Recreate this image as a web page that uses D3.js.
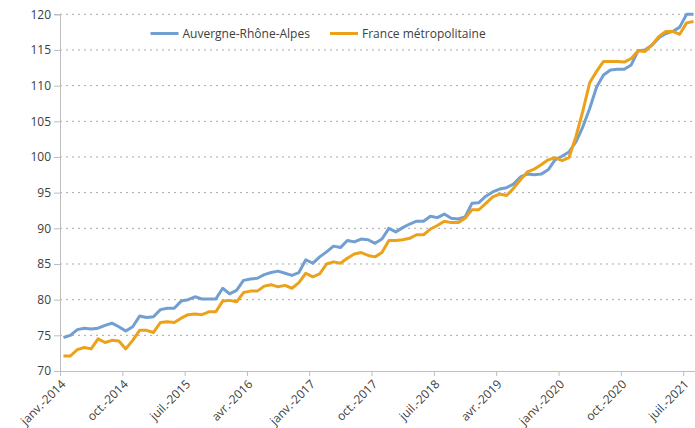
<!DOCTYPE html>
<html>
<head>
<meta charset="utf-8">
<title></title>
<style>
  body { margin: 0; background: #fff; }
  svg { font-family: "Open Sans", sans-serif; }
</style>
</head>
<body>
<svg id="chart" width="695" height="428"></svg>
<script src="https://d3js.org/d3.v7.min.js"></script>
<script>
// months janv.-2014 .. août-2021
const monthNames = ["janv.", "févr.", "mars", "avr.", "mai", "juin", "juil.", "août", "sept.", "oct.", "nov.", "déc."];
const firstYear = 2014;
const nMonths = 92;
const months = d3.range(nMonths).map(i => `${monthNames[i % 12]}-${firstYear + Math.floor(i / 12)}`);

const seriesNames = ["Auvergne-Rhône-Alpes", "France métropolitaine"];

const ara = [
  74.7, 75.0, 75.8, 76.0, 75.9, 76.0, 76.4, 76.7, 76.2, 75.6, 76.2, 77.7,
  77.5, 77.6, 78.6, 78.8, 78.8, 79.8, 80.0, 80.4, 80.1, 80.1, 80.1, 81.6,
  80.8, 81.3, 82.7, 82.9, 83.0, 83.5, 83.8, 84.0, 83.7, 83.4, 83.8, 85.6,
  85.1, 86.0, 86.7, 87.5, 87.3, 88.3, 88.1, 88.5, 88.4, 87.9, 88.5, 90.0,
  89.5, 90.1, 90.6, 91.0, 91.0, 91.7, 91.5, 92.0, 91.4, 91.3, 91.6, 93.5,
  93.6, 94.5, 95.1, 95.5, 95.7, 96.2, 97.2, 97.6, 97.5, 97.6, 98.2, 99.6,
  100.1, 100.7, 102.1, 104.2, 106.8, 109.8, 111.5, 112.2, 112.3, 112.3, 112.9, 114.9,
  115.0, 115.7, 116.7, 117.3, 117.6, 118.2, 120.0, 120.0
];

const france = [
  72.1, 72.1, 73.0, 73.3, 73.1, 74.5, 74.0, 74.3, 74.2, 73.1, 74.3, 75.7,
  75.7, 75.4, 76.8, 76.9, 76.8, 77.4, 77.9, 78.0, 77.9, 78.3, 78.3, 79.8,
  79.9, 79.7, 81.0, 81.2, 81.2, 81.9, 82.1, 81.8, 82.0, 81.6, 82.4, 83.7,
  83.2, 83.6, 85.0, 85.3, 85.1, 85.8, 86.4, 86.6, 86.2, 86.0, 86.6, 88.3,
  88.3, 88.4, 88.6, 89.1, 89.1, 89.9, 90.4, 91.0, 90.8, 90.8, 91.4, 92.6,
  92.6, 93.5, 94.4, 94.8, 94.6, 95.6, 96.8, 97.9, 98.3, 98.9, 99.6, 99.9,
  99.5, 99.9, 102.8, 106.4, 110.4, 112.0, 113.4, 113.4, 113.4, 113.3, 113.8, 114.9,
  114.8, 115.7, 116.9, 117.6, 117.6, 117.2, 118.8, 119.0
];

const yTicks = [70, 75, 80, 85, 90, 95, 100, 105, 110, 115, 120];
const xTickIdx = d3.range(0, nMonths, 9);

const colors = ["#729fd2", "#eba21a"];
const plotLeft = 60, plotRight = 697, plotTop = 14.3, plotBottom = 371;

const svg = d3.select("#chart");

const x = d3.scaleLinear().domain([0, nMonths]).range([plotLeft, plotRight]);
const y = d3.scaleLinear().domain([70, 120]).range([plotBottom, plotTop]);

// grid
svg.append("g")
  .selectAll("line")
  .data(yTicks.filter(v => v > 70))
  .join("line")
    .attr("x1", plotLeft).attr("x2", 695)
    .attr("y1", d => y(d)).attr("y2", d => y(d))
    .attr("stroke", "#a8a8a8")
    .attr("stroke-width", 1)
    .attr("stroke-dasharray", "2,4");

// y axis
const yAxis = svg.append("g")
  .attr("transform", `translate(${plotLeft},0)`)
  .call(d3.axisLeft(y).tickValues(yTicks).tickSize(6).tickPadding(3));
yAxis.select(".domain").attr("stroke", "#bdbdbd");
yAxis.selectAll(".tick line").attr("stroke", "#bdbdbd");
yAxis.selectAll("text").attr("fill", "#404040").style("font-size", "12px")
  .style("font-family", "'Open Sans', sans-serif");

// x axis
const xAxis = svg.append("g")
  .attr("transform", `translate(0,${plotBottom})`)
  .call(d3.axisBottom(x).tickValues(xTickIdx).tickFormat(i => months[i]).tickSize(5).tickSizeOuter(0));
xAxis.select(".domain").attr("stroke", "#bdbdbd");
xAxis.selectAll(".tick line").attr("stroke", "#bdbdbd");
xAxis.selectAll("text")
  .attr("fill", "#404040")
  .style("font-size", "12px")
  .style("font-family", "'Open Sans', sans-serif")
  .attr("text-anchor", "end")
  .attr("dy", "0.35em")
  .attr("transform", "translate(3,11) rotate(-45)")
  .attr("x", 0).attr("y", 0);

// lines
const line = d3.line()
  .x((d, i) => x(i + 0.5))
  .y(d => y(d));

[ara, france].forEach((s, k) => {
  svg.append("path")
    .datum(s)
    .attr("fill", "none")
    .attr("stroke", colors[k])
    .attr("stroke-width", 3)
    .attr("stroke-linejoin", "round")
    .attr("d", line);
});

// legend
const legendX = [150.5, 330];
const legend = svg.append("g")
  .selectAll("g")
  .data(seriesNames)
  .join("g")
    .attr("transform", (d, i) => `translate(${legendX[i]},33.5)`);
legend.append("line")
  .attr("x1", 0).attr("x2", 28)
  .attr("stroke", (d, i) => colors[i])
  .attr("stroke-width", 3);
legend.append("text")
  .attr("x", 32)
  .attr("dy", "0.35em")
  .attr("fill", "#404040")
  .style("font-size", "12px")
  .text(d => d);
</script>
</body>
</html>
